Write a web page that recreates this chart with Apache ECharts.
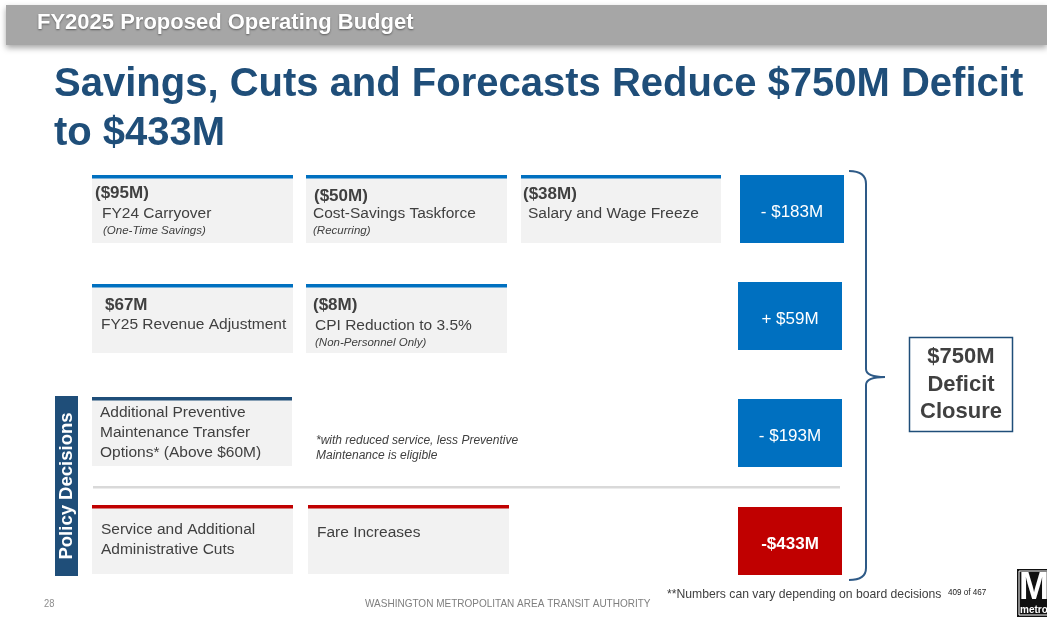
<!DOCTYPE html>
<html>
<head>
<meta charset="utf-8">
<script src="https://cdn.jsdelivr.net/npm/echarts@6/dist/echarts.min.js"></script>
<style>
html,body{margin:0;padding:0;background:#fff;}
#main{width:1047px;height:617px;}
</style>
</head>
<body>
<div id="main"></div>
<script>
// ---- data ----
const headerText = 'FY2025 Proposed Operating Budget';
const titleLines = ['Savings, Cuts and Forecasts Reduce $750M Deficit', 'to $433M'];
const row1Amounts = ['($95M)', '($50M)', '($38M)'];
const row1Labels = ['FY24 Carryover', 'Cost-Savings Taskforce', 'Salary and Wage Freeze'];
const row1Notes = ['(One-Time Savings)', '(Recurring)', ''];
const row2Amounts = ['$67M', '($8M)'];
const row2Labels = ['FY25 Revenue Adjustment', 'CPI Reduction to 3.5%'];
const row2Notes = ['', '(Non-Personnel Only)'];
const row3Lines = ['Additional Preventive', 'Maintenance Transfer', 'Options* (Above $60M)'];
const row3Footnote = ['*with reduced service, less Preventive', 'Maintenance is eligible'];
const row4Labels = [['Service and Additional', 'Administrative Cuts'], ['Fare Increases']];
const rowTotals = ['- $183M', '+ $59M', '- $193M', '-$433M'];
const closureLines = ['$750M', 'Deficit', 'Closure'];
const sideLabel = 'Policy Decisions';
const footerNote = '**Numbers can vary depending on board decisions';
const pageOf = '409 of 467';
const pageNum = '28';
const footerOrg = 'WASHINGTON METROPOLITAN AREA TRANSIT AUTHORITY';

// ---- layout / style ----
const FONT = '"Liberation Sans", Arial, sans-serif';
const NARROW = '"Liberation Sans Narrow", "Liberation Sans", Arial, sans-serif';
const C = { blue: '#0070c0', navy: '#1f4e79', red: '#c00000', box: '#f2f2f2', text: '#404040' };

const els = [];
function rect(x, y, w, h, fill, extra) {
  els.push(Object.assign({ type: 'rect', shape: { x, y, width: w, height: h }, style: { fill }, silent: true }, extra || {}));
}
function text(t, x, y, font, fill, align, extra) {
  const st = { text: t, font, fill, align: align || 'left', textAlign: align || 'left', verticalAlign: 'middle', textVerticalAlign: 'middle' };
  els.push(Object.assign({ type: 'text', x, y, style: st, silent: true }, extra || {}));
}
function card(x, y, w, h, topColor) {
  rect(x, y, w, h, C.box);
  rect(x, y, w, 3.5, topColor);
}
const braceStyle = { fill: 'none', stroke: '#2e5a87', lineWidth: 2 };
function line(x1, y1, x2, y2) {
  els.push({ type: 'line', silent: true, shape: { x1, y1, x2, y2 }, style: braceStyle });
}
function curve(x1, y1, cx, cy, x2, y2) {
  els.push({ type: 'bezierCurve', silent: true, shape: { x1, y1, x2, y2, cpx1: cx, cpy1: cy }, style: braceStyle });
}

// header bar
rect(6, 5, 1041, 40, '#a6a6a6', { style: { fill: '#a6a6a6', shadowBlur: 6, shadowColor: 'rgba(0,0,0,0.35)', shadowOffsetY: 3 } });
text(headerText, 37, 23, 'bold 22px ' + FONT, '#ffffff', 'left', {});
els[els.length - 1].style.textShadowColor = 'rgba(0,0,0,0.45)';
els[els.length - 1].style.textShadowBlur = 2;
els[els.length - 1].style.textShadowOffsetY = 1;

// title
text(titleLines[0], 54, 85, 'bold 40px ' + FONT, C.navy);
text(titleLines[1], 54, 134, 'bold 40px ' + FONT, C.navy);

// row 1 cards
const r1x = [92, 306, 521], r1w = [201, 201, 200];
const r1amtDx = [3, 8, 2], r1amtY = [193, 196, 194], r1lblDx = [10, 7, 7], r1noteDx = [11, 7, 0];
for (let i = 0; i < 3; i++) {
  card(r1x[i], 175, r1w[i], 68, C.blue);
  text(row1Amounts[i], r1x[i] + r1amtDx[i], r1amtY[i], 'bold 17px ' + FONT, C.text);
  text(row1Labels[i], r1x[i] + r1lblDx[i], 214, '15.5px ' + FONT, C.text);
  if (row1Notes[i]) text(row1Notes[i], r1x[i] + r1noteDx[i], 231, 'italic 11.5px ' + FONT, C.text);
}
// row 2 cards
const r2x = [92, 306];
const r2amtDx = [13, 7], r2lblDx = [9, 9], r2lblY = [325, 326];
for (let i = 0; i < 2; i++) {
  card(r2x[i], 284, 201, 69, C.blue);
  text(row2Amounts[i], r2x[i] + r2amtDx[i], 305, 'bold 17px ' + FONT, C.text);
  text(row2Labels[i], r2x[i] + r2lblDx[i], r2lblY[i], '15.5px ' + FONT, C.text);
  if (row2Notes[i]) text(row2Notes[i], r2x[i] + 9, 343, 'italic 11.5px ' + FONT, C.text);
}
// row 3
card(92, 397, 200, 69, C.navy);
row3Lines.forEach((t, i) => text(t, 100, 413 + i * 20, '15.5px ' + FONT, C.text));
row3Footnote.forEach((t, i) => text(t, 316, 441 + i * 15, 'italic 12px ' + FONT, C.text));
// separator
rect(93, 486, 747, 2.5, '#d9d9d9');
// row 4
const r4x = [92, 308];
card(r4x[0], 505, 201, 69, C.red);
card(r4x[1], 505, 201, 69, C.red);
row4Labels[0].forEach((t, i) => text(t, 101, 530 + i * 20, '15.5px ' + FONT, C.text));
row4Labels[1].forEach((t, i) => text(t, 317, 533 + i * 20, '15.5px ' + FONT, C.text));

// totals
const totX = [740, 738, 738, 738], totY = [175, 282, 399, 507];
rowTotals.forEach((t, i) => {
  const red = i === 3;
  rect(totX[i], totY[i], 104, 68, red ? C.red : C.blue);
  text(t, totX[i] + 52, totY[i] + 37, (red ? 'bold ' : '') + '17px ' + FONT, '#ffffff', 'center');
});

// brace
curve(849, 171, 866, 171, 866, 184);
line(866, 184, 866, 369);
curve(866, 369, 866, 377, 885, 377);
curve(885, 377, 866, 377, 866, 385);
line(866, 385, 866, 568);
curve(866, 568, 866, 580, 849, 580);

// closure box
rect(909.5, 337.5, 103, 94, '#ffffff', { style: { fill: '#ffffff', stroke: C.navy, lineWidth: 1.5 } });
closureLines.forEach((t, i) => text(t, 961, 357 + i * 27.5, 'bold 22px ' + FONT, C.text, 'center'));

// side label
rect(55, 396, 23, 180, C.navy);
text(sideLabel, 67, 486, 'bold 18.5px ' + FONT, '#ffffff', 'center', { rotation: Math.PI / 2 });

// footer
text(pageNum, 44, 604, '11px ' + NARROW, '#8c8c8c', 'left', { scaleX: 0.85 });
text(footerOrg, 365, 604, '11.5px ' + NARROW, '#7f7f7f', 'left', { scaleX: 0.87 });
text(footerNote, 667, 595, '12.2px ' + FONT, C.text);
text(pageOf, 948, 593, '9px ' + FONT, '#222', 'left', { scaleX: 0.9 });

// metro logo
rect(1017, 569, 32, 48, '#111111');
rect(1019, 571, 30, 44, 'none', { style: { fill: 'none', stroke: '#ffffff', lineWidth: 1 } });
text('M', 1034, 589, 'bold 38px ' + FONT, '#ffffff', 'center', { scaleX: 0.95 });
text('metro', 1020, 610, 'bold 10px ' + FONT, '#ffffff');

const chart = echarts.init(document.getElementById('main'), null, { renderer: 'canvas' });
chart.setOption({
  backgroundColor: '#ffffff',
  animation: false,
  graphic: { elements: els }
});
</script>
</body>
</html>
